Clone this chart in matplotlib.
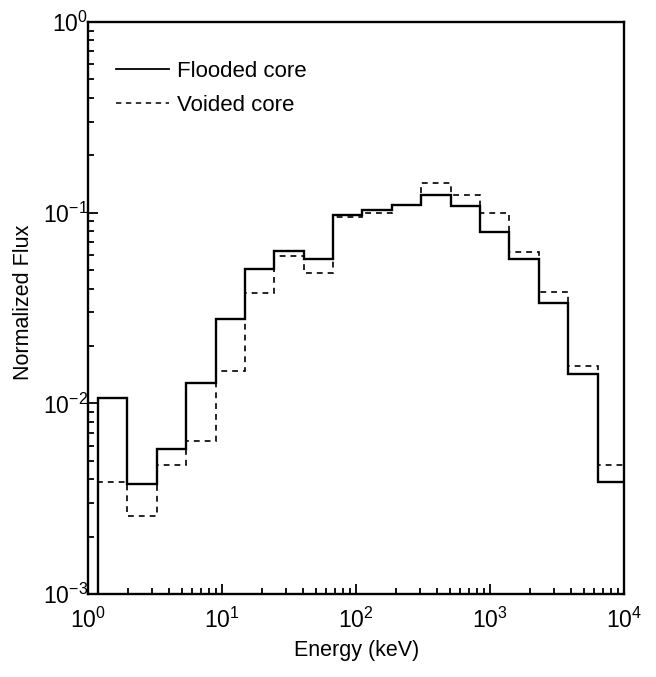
import numpy as np
import matplotlib
matplotlib.use("Agg")
import matplotlib.pyplot as plt
from matplotlib.lines import Line2D
from matplotlib.ticker import LogLocator, NullFormatter

plt.rcParams["font.family"] = ["Liberation Sans", "DejaVu Sans"]
plt.rcParams["axes.unicode_minus"] = False

# group boundaries (keV) and per-group normalized flux
edges = [1.19, 1.97, 3.27, 5.42, 8.97, 14.9, 24.6, 40.8, 67.6, 112, 186,
         308, 510, 845, 1400, 2320, 3845, 6370, 10300]
flooded = [0.0107, 0.00378, 0.00575, 0.0128, 0.0277, 0.0507, 0.0632, 0.0574,
           0.0969, 0.103, 0.110, 0.123, 0.108, 0.0789, 0.0572, 0.0335,
           0.0143, 0.00389]
voided = [0.00389, 0.00255, 0.00475, 0.00635, 0.0148, 0.0378, 0.0595, 0.0485,
          0.095, 0.0996, 0.110, 0.143, 0.124, 0.0996, 0.0625, 0.0384,
          0.0157, 0.00475]

fig = plt.figure(figsize=(6.56, 6.77), dpi=100)
ax = fig.add_axes([0.134, 0.1226, 0.817, 0.845])

ax.stairs(voided, edges, baseline=1e-5, color="black", lw=1.2,
          linestyle=(0, (3.5, 3)))
ax.stairs(flooded, edges, baseline=1e-5, color="black", lw=1.7)

ax.set_xscale("log")
ax.set_yscale("log")
ax.set_xlim(1, 1e4)
ax.set_ylim(1e-3, 1)

for a in (ax.xaxis, ax.yaxis):
    a.set_major_locator(LogLocator(base=10, numticks=10))
    a.set_minor_locator(LogLocator(base=10, subs=np.arange(2, 10), numticks=20))
    a.set_minor_formatter(NullFormatter())
ax.tick_params(which="both", direction="in", top=False, right=False,
               width=1.3, labelsize=16.5)
ax.tick_params(which="major", length=7)
ax.tick_params(axis="x", which="major", pad=10)
ax.tick_params(axis="y", which="major", pad=0)
ax.tick_params(which="minor", length=4)
for s in ax.spines.values():
    s.set_linewidth(1.7)

ax.set_xlabel("Energy (keV)", fontsize=15.5)
ax.set_ylabel("Normalized Flux", fontsize=15.5)
ax.xaxis.set_label_coords(0.502, -0.08)
ax.yaxis.set_label_coords(-0.1, 0.51)

handles = [Line2D([], [], color="black", lw=1.3),
           Line2D([], [], color="black", lw=1.1, linestyle=(0, (3.5, 3)))]
ax.legend(handles, ["Flooded core", "Voided core"], loc="upper left",
          frameon=False, fontsize=16, handlelength=2.4, handletextpad=0.35,
          labelspacing=0.6, borderaxespad=0.0, bbox_to_anchor=(0.035, 0.948))

fig.savefig("out.png", dpi=100)
